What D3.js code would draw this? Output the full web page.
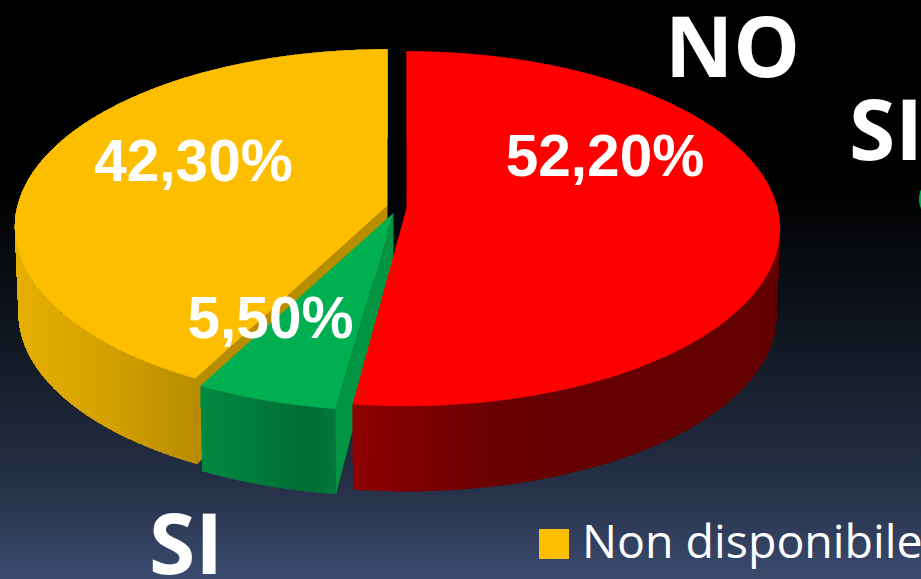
<!DOCTYPE html>
<html>
<head>
<meta charset="utf-8">
<script src="https://cdn.jsdelivr.net/npm/d3@7/dist/d3.min.js"></script>
<style>
html,body{margin:0;padding:0;background:#000;overflow:hidden}
svg{display:block}
</style>
</head>
<body>
<div id="chart"></div>
<script>
const categories = ["NO", "SI", "Non disponibile"];
const values = [52.2, 5.5, 42.3];
const valueLabels = ["52,20%", "5,50%", "42,30%"];
const topColors = ["#ff0000", "#00b050", "#fdbe00"];
const drawOrder = [2, 1, 0];

const W = 921, H = 579;
const svg = d3.select("#chart").append("svg").attr("width", W).attr("height", H);
const defs = svg.append("defs");

const bg = defs.append("linearGradient").attr("id", "bg")
  .attr("gradientUnits", "userSpaceOnUse").attr("x1", 0).attr("x2", 0).attr("y1", 0).attr("y2", H);
[[0, "#000"], [190, "#000"], [340, "#111822"], [480, "#252f45"], [579, "#3a4b6f"]]
  .forEach(([y, c]) => bg.append("stop").attr("offset", y / H).attr("stop-color", c));
svg.append("rect").attr("width", W).attr("height", H).attr("fill", "url(#bg)");

const wallStops = [
  [[352, "#8f0000"], [500, "#680000"], [780, "#620000"]],
  [[200, "#008a42"], [310, "#006c34"], [337, "#007a3b"]],
  [[15, "#e6b000"], [100, "#d6a200"], [200, "#b88c00"]]
];
wallStops.forEach((stops, i) => {
  const g = defs.append("linearGradient").attr("id", "wall" + i)
    .attr("gradientUnits", "userSpaceOnUse")
    .attr("x1", stops[0][0]).attr("x2", stops[stops.length - 1][0]).attr("y1", 0).attr("y2", 0);
  const sc = d3.scaleLinear().domain([stops[0][0], stops[stops.length - 1][0]]).range([0, 1]);
  stops.forEach(([x, c]) => g.append("stop").attr("offset", sc(x)).attr("stop-color", c));
});

// perspective disc geometry
const rxs = [371, 372, 370], ry = 175, persp = 0.1168;
const hubs = [[406.5, 208], [393.5, 213], [387.5, 206]];   // exploded slice centres
const wallDrop = 87, wallScale = 0.99, hubDrop = 60;
const faceColors = [null, "#009543", "#b88e00"];
const endTrim = [0.0095, 0, 0];                            // camera skew of the red cut edge

const pie = d3.pie().sort(null).value(d => d);
const arcs = pie(values);
const project = (i, a, s = 1, drop = 0) => {
  const u = Math.sin(a), v = -Math.cos(a), d = 1 - persp * v;
  return [hubs[i][0] + s * rxs[i] * u / d, hubs[i][1] + drop + s * ry * v / d];
};
const line = d3.line();
const angles = (a0, a1) => d3.range(0, 121).map(k => a0 + (a1 - a0) * k / 120);

const chart = svg.append("g");
drawOrder.forEach(i => {
  const arc = arcs[i], hub = hubs[i], as = angles(arc.startAngle, arc.endAngle - endTrim[i]);
  const topPts = as.map(a => project(i, a));
  const botPts = as.map(a => project(i, a, wallScale, wallDrop));
  // outer wall, one facet per step so the silhouette of the cylinder is filled
  chart.append("g").attr("shape-rendering", "crispEdges")
    .selectAll("path").data(d3.range(as.length - 1)).join("path")
    .attr("d", k => line([topPts[k], topPts[k + 1], botPts[k + 1], botPts[k]]) + "Z")
    .attr("fill", `url(#wall${i})`).attr("stroke", `url(#wall${i})`).attr("stroke-width", 0.6);
  // cut face towards the viewer
  if (faceColors[i]) {
    const a = arc.startAngle;
    const f = [hub, project(i, a), project(i, a, wallScale, wallDrop), [hub[0], hub[1] + hubDrop]];
    chart.append("path").attr("d", line(f) + "Z").attr("fill", faceColors[i]);
  }
  // top face
  chart.append("path").attr("d", line([hub].concat(topPts)) + "Z").attr("fill", topColors[i]);
});

// value labels
const labelPos = [[605, 176], [270.5, 338], [193.5, 181]];
svg.append("g").selectAll("text").data(valueLabels).join("text")
  .attr("x", (d, i) => labelPos[i][0]).attr("y", (d, i) => labelPos[i][1])
  .attr("text-anchor", "middle").attr("fill", "#fff")
  .attr("font-family", "'Liberation Sans', Arial, sans-serif")
  .attr("font-weight", 700).attr("font-size", 58.5)
  .text(d => d);

// category labels
const catFont = "'Open Sans', sans-serif";
const catLabels = [
  { t: categories[0], x: 665, y: 77 },
  { t: categories[1], x: 849, y: 160 },
  { t: categories[1], x: 149, y: 574 }
];
svg.append("g").selectAll("text").data(catLabels).join("text")
  .attr("x", d => d.x).attr("y", d => d.y).attr("fill", "#fff")
  .attr("font-family", catFont).attr("font-weight", 700).attr("font-size", 84)
  .text(d => d.t);

// legend
svg.append("rect").attr("x", 539).attr("y", 529).attr("width", 30).attr("height", 30).attr("fill", topColors[2]);
svg.append("text").attr("x", 582).attr("y", 558).attr("fill", "#fff")
  .attr("font-family", "'Open Sans', sans-serif").attr("font-size", 46.5).text(categories[2]);
svg.append("ellipse").attr("cx", 936).attr("cy", 199).attr("rx", 17).attr("ry", 20).attr("fill", topColors[1]);
</script>
</body>
</html>
